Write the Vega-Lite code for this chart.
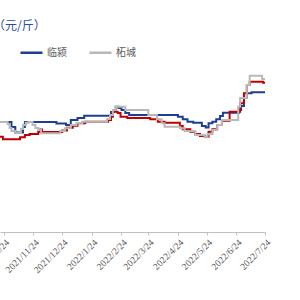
{
  "$schema": "https://vega.github.io/schema/vega-lite/v6.json",
  "autosize": "none",
  "width": 265,
  "height": 162,
  "padding": {"left": 0, "top": 70, "right": 35, "bottom": 68},
  "background": "white",
  "config": {"view": {"stroke": null}},
  "title": {
    "text": "（元/斤）",
    "anchor": "start",
    "frame": "group",
    "dx": -7,
    "offset": 7,
    "font": "Noto Sans CJK SC",
    "fontSize": 12,
    "fontWeight": "normal",
    "color": "#2a4d9b"
  },
  "data": {
    "values": [
      {"d": "2021-10-20", "v": 10.86, "s": "临颍"},
      {"d": "2021-11-01", "v": 10.37, "s": "临颍"},
      {"d": "2021-11-05", "v": 9.83, "s": "临颍"},
      {"d": "2021-11-13", "v": 10.37, "s": "临颍"},
      {"d": "2021-11-15", "v": 10.86, "s": "临颍"},
      {"d": "2021-12-18", "v": 10.72, "s": "临颍"},
      {"d": "2021-12-28", "v": 10.57, "s": "临颍"},
      {"d": "2022-01-02", "v": 11.06, "s": "临颍"},
      {"d": "2022-01-09", "v": 11.26, "s": "临颍"},
      {"d": "2022-01-16", "v": 11.49, "s": "临颍"},
      {"d": "2022-02-13", "v": 11.85, "s": "临颍"},
      {"d": "2022-02-16", "v": 12.05, "s": "临颍"},
      {"d": "2022-02-18", "v": 12.38, "s": "临颍"},
      {"d": "2022-02-21", "v": 12.25, "s": "临颍"},
      {"d": "2022-02-24", "v": 12.05, "s": "临颍"},
      {"d": "2022-02-28", "v": 11.75, "s": "临颍"},
      {"d": "2022-03-04", "v": 11.56, "s": "临颍"},
      {"d": "2022-04-24", "v": 11.39, "s": "临颍"},
      {"d": "2022-04-29", "v": 11.13, "s": "临颍"},
      {"d": "2022-05-04", "v": 10.89, "s": "临颍"},
      {"d": "2022-05-10", "v": 10.80, "s": "临颍"},
      {"d": "2022-05-19", "v": 10.47, "s": "临颍"},
      {"d": "2022-05-23", "v": 10.32, "s": "临颍"},
      {"d": "2022-05-26", "v": 10.74, "s": "临颍"},
      {"d": "2022-05-30", "v": 10.89, "s": "临颍"},
      {"d": "2022-06-03", "v": 11.13, "s": "临颍"},
      {"d": "2022-06-07", "v": 11.46, "s": "临颍"},
      {"d": "2022-06-10", "v": 11.78, "s": "临颍"},
      {"d": "2022-06-27", "v": 12.05, "s": "临颍"},
      {"d": "2022-06-29", "v": 12.44, "s": "临颍"},
      {"d": "2022-07-02", "v": 13.23, "s": "临颍"},
      {"d": "2022-07-05", "v": 13.70, "s": "临颍"},
      {"d": "2022-07-10", "v": 13.80, "s": "临颍"},
      {"d": "2022-07-24", "v": 13.80, "s": "临颍"},

      {"d": "2021-10-20", "v": 9.41, "s": "其他"},
      {"d": "2021-10-23", "v": 9.16, "s": "其他"},
      {"d": "2021-11-10", "v": 9.35, "s": "其他"},
      {"d": "2021-11-15", "v": 9.58, "s": "其他"},
      {"d": "2021-11-20", "v": 9.68, "s": "其他"},
      {"d": "2021-11-29", "v": 9.91, "s": "其他"},
      {"d": "2021-12-01", "v": 10.12, "s": "其他"},
      {"d": "2021-12-03", "v": 9.88, "s": "其他"},
      {"d": "2021-12-24", "v": 10.02, "s": "其他"},
      {"d": "2021-12-29", "v": 10.30, "s": "其他"},
      {"d": "2022-01-04", "v": 10.50, "s": "其他"},
      {"d": "2022-01-09", "v": 10.74, "s": "其他"},
      {"d": "2022-01-17", "v": 10.89, "s": "其他"},
      {"d": "2022-02-10", "v": 11.06, "s": "其他"},
      {"d": "2022-02-13", "v": 11.39, "s": "其他"},
      {"d": "2022-02-15", "v": 11.88, "s": "其他"},
      {"d": "2022-02-20", "v": 11.75, "s": "其他"},
      {"d": "2022-02-23", "v": 11.39, "s": "其他"},
      {"d": "2022-03-02", "v": 11.26, "s": "其他"},
      {"d": "2022-03-26", "v": 11.13, "s": "其他"},
      {"d": "2022-04-03", "v": 10.89, "s": "其他"},
      {"d": "2022-04-10", "v": 10.80, "s": "其他"},
      {"d": "2022-04-26", "v": 10.47, "s": "其他"},
      {"d": "2022-04-29", "v": 10.14, "s": "其他"},
      {"d": "2022-05-07", "v": 9.91, "s": "其他"},
      {"d": "2022-05-12", "v": 9.68, "s": "其他"},
      {"d": "2022-05-17", "v": 9.48, "s": "其他"},
      {"d": "2022-05-22", "v": 9.41, "s": "其他"},
      {"d": "2022-05-26", "v": 9.91, "s": "其他"},
      {"d": "2022-05-30", "v": 10.14, "s": "其他"},
      {"d": "2022-06-04", "v": 10.57, "s": "其他"},
      {"d": "2022-06-09", "v": 10.99, "s": "其他"},
      {"d": "2022-06-17", "v": 11.88, "s": "其他"},
      {"d": "2022-06-28", "v": 12.71, "s": "其他"},
      {"d": "2022-07-02", "v": 13.70, "s": "其他"},
      {"d": "2022-07-05", "v": 14.52, "s": "其他"},
      {"d": "2022-07-08", "v": 14.84, "s": "其他"},
      {"d": "2022-07-22", "v": 14.75, "s": "其他"},
      {"d": "2022-07-24", "v": 14.75, "s": "其他"},

      {"d": "2021-10-20", "v": 10.86, "s": "柘城"},
      {"d": "2021-10-28", "v": 10.67, "s": "柘城"},
      {"d": "2021-10-30", "v": 10.27, "s": "柘城"},
      {"d": "2021-11-01", "v": 9.98, "s": "柘城"},
      {"d": "2021-11-05", "v": 9.78, "s": "柘城"},
      {"d": "2021-11-11", "v": 10.17, "s": "柘城"},
      {"d": "2021-11-13", "v": 10.57, "s": "柘城"},
      {"d": "2021-11-16", "v": 10.80, "s": "柘城"},
      {"d": "2021-11-19", "v": 10.86, "s": "柘城"},
      {"d": "2021-11-23", "v": 10.57, "s": "柘城"},
      {"d": "2021-11-26", "v": 10.27, "s": "柘城"},
      {"d": "2021-11-29", "v": 10.07, "s": "柘城"},
      {"d": "2021-12-02", "v": 9.75, "s": "柘城"},
      {"d": "2021-12-22", "v": 9.98, "s": "柘城"},
      {"d": "2021-12-27", "v": 10.24, "s": "柘城"},
      {"d": "2022-01-02", "v": 10.57, "s": "柘城"},
      {"d": "2022-01-08", "v": 10.77, "s": "柘城"},
      {"d": "2022-01-14", "v": 10.89, "s": "柘城"},
      {"d": "2022-02-09", "v": 11.16, "s": "柘城"},
      {"d": "2022-02-12", "v": 11.56, "s": "柘城"},
      {"d": "2022-02-15", "v": 12.05, "s": "柘城"},
      {"d": "2022-02-18", "v": 12.38, "s": "柘城"},
      {"d": "2022-02-28", "v": 12.05, "s": "柘城"},
      {"d": "2022-03-24", "v": 11.56, "s": "柘城"},
      {"d": "2022-04-02", "v": 11.13, "s": "柘城"},
      {"d": "2022-04-07", "v": 10.74, "s": "柘城"},
      {"d": "2022-04-10", "v": 10.40, "s": "柘城"},
      {"d": "2022-04-26", "v": 10.24, "s": "柘城"},
      {"d": "2022-05-01", "v": 9.98, "s": "柘城"},
      {"d": "2022-05-12", "v": 9.58, "s": "柘城"},
      {"d": "2022-05-22", "v": 9.35, "s": "柘城"},
      {"d": "2022-05-25", "v": 9.68, "s": "柘城"},
      {"d": "2022-05-30", "v": 10.07, "s": "柘城"},
      {"d": "2022-06-04", "v": 10.57, "s": "柘城"},
      {"d": "2022-06-09", "v": 11.06, "s": "柘城"},
      {"d": "2022-06-26", "v": 12.38, "s": "柘城"},
      {"d": "2022-06-28", "v": 13.23, "s": "柘城"},
      {"d": "2022-07-05", "v": 14.52, "s": "柘城"},
      {"d": "2022-07-08", "v": 15.44, "s": "柘城"},
      {"d": "2022-07-21", "v": 15.11, "s": "柘城"},
      {"d": "2022-07-24", "v": 15.11, "s": "柘城"}
    ]
  },
  "mark": {"type": "line", "interpolate": "step-after", "strokeWidth": 2, "clip": true},
  "encoding": {
    "x": {
      "field": "d",
      "type": "temporal",
      "scale": {"domain": ["2021-10-20", "2022-07-24"]},
      "axis": {
        "title": null,
        "values": ["2021-10-24", "2021-11-24", "2021-12-24", "2022-01-24", "2022-02-24", "2022-03-24", "2022-04-24", "2022-05-24", "2022-06-24", "2022-07-24"],
        "format": "%Y/%-m/%d",
        "labelAngle": -45,
        "labelFont": "Liberation Serif",
        "labelFontSize": 9.5,
        "labelColor": "#595959",
        "labelPadding": 2,
        "labelOverlap": false,
        "labelBound": false,
        "labelFlush": false,
        "domainColor": "#bfbfbf",
        "tickColor": "#bfbfbf",
        "tickSize": 3,
        "grid": false
      }
    },
    "y": {
      "field": "v",
      "type": "quantitative",
      "scale": {"domain": [0, 16], "nice": false, "zero": false},
      "axis": null
    },
    "color": {
      "field": "s",
      "type": "nominal",
      "scale": {"domain": ["临颍", "其他", "柘城"], "range": ["#1c3f94", "#c00000", "#b8b8b8"]},
      "legend": {
        "values": ["临颍", "柘城"],
        "title": null,
        "orient": "none",
        "direction": "horizontal",
        "legendX": 19,
        "legendY": -30,
        "symbolType": "stroke",
        "symbolSize": 484,
        "symbolStrokeWidth": 2.5,
        "labelFont": "Noto Sans CJK SC",
        "labelFontSize": 10,
        "labelColor": "#595959",
        "labelOffset": 3,
        "columnPadding": 17
      }
    }
  }
}
